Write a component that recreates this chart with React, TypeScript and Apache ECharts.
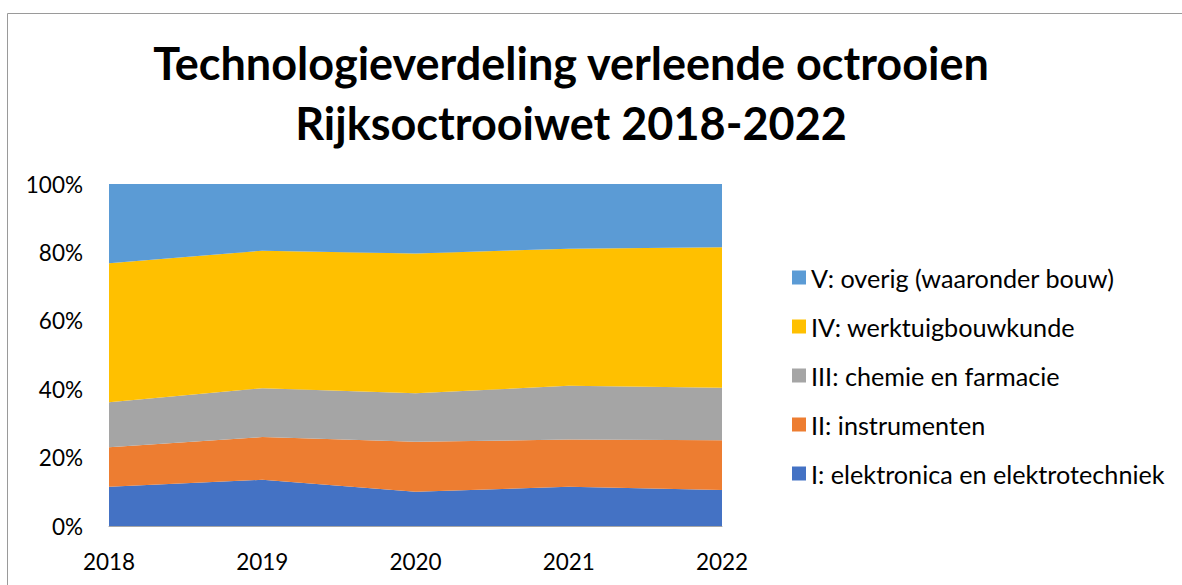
import React, { useEffect, useRef } from "react";
import * as echarts from "echarts";

const years = ["2018", "2019", "2020", "2021", "2022"];
const elektronica = [11.5, 13.5, 10.0, 11.5, 10.5];
const instrumenten = [11.5, 12.5, 14.6, 13.8, 14.6];
const chemie = [13.2, 14.3, 14.2, 15.7, 15.3];
const werktuig = [40.6, 40.2, 40.9, 40.1, 41.1];
const overig = [23.2, 19.5, 20.3, 18.9, 18.5];

const seriesNames = [
  "I: elektronica en elektrotechniek",
  "II: instrumenten",
  "III: chemie en farmacie",
  "IV: werktuigbouwkunde",
  "V: overig (waaronder bouw)",
];
const seriesData = [elektronica, instrumenten, chemie, werktuig, overig];
const colors = ["#4472c4", "#ed7d31", "#a5a5a5", "#ffc000", "#5b9bd5"];

const FONT = "Lato, 'Open Sans', sans-serif";

export default function App() {
  const ref = useRef<HTMLDivElement>(null);
  useEffect(() => {
    if (!ref.current) return;
    const chart = echarts.init(ref.current, null, { renderer: "svg" });
    chart.setOption({
      animation: false,
      backgroundColor: "#ffffff",
      title: {
        text: "Technologieverdeling verleende octrooien\nRijksoctrooiwet 2018-2022",
        left: 566,
        top: 28,
        textAlign: "center",
        textStyle: {
          fontFamily: FONT,
          fontSize: 45,
          fontWeight: "bold",
          lineHeight: 60,
          color: "#000000",
        },
      },
      graphic: [
        {
          type: "rect",
          shape: { x: 7.5, y: 13.5, width: 1200, height: 600 },
          style: { fill: "none", stroke: "#9a9a9a", lineWidth: 1 },
          silent: true,
        },
      ],
      legend: {
        orient: "vertical",
        left: 792,
        top: 265,
        padding: 0,
        itemWidth: 14,
        itemHeight: 14,
        itemGap: 24,
        icon: "rect",
        data: [...seriesNames].reverse(),
        textStyle: {
          fontFamily: FONT,
          fontSize: 25.2,
          lineHeight: 24,
          color: "#000000",
        },
      },
      grid: { left: 109, right: 460, top: 184, bottom: 59, containLabel: false },
      xAxis: {
        type: "category",
        boundaryGap: false,
        data: years,
        axisLine: { show: true, lineStyle: { color: "#a6a6a6", width: 1 } },
        axisTick: { show: false },
        axisLabel: {
          fontFamily: FONT,
          fontSize: 22.5,
          color: "#000000",
          margin: 24,
        },
        splitLine: { show: false },
      },
      yAxis: {
        type: "value",
        min: 0,
        max: 100,
        interval: 20,
        axisLine: { show: false },
        axisTick: { show: false },
        axisLabel: {
          fontFamily: FONT,
          fontSize: 22.5,
          color: "#000000",
          margin: 26,
          formatter: "{value}%",
        },
        splitLine: { show: true, lineStyle: { color: "#d9d9d9", width: 1 } },
      },
      series: seriesNames.map((name, i) => ({
        name,
        type: "line",
        stack: "total",
        data: seriesData[i],
        symbol: "none",
        showSymbol: false,
        lineStyle: { width: 0 },
        itemStyle: { color: colors[i] },
        areaStyle: { color: colors[i], opacity: 1 },
        emphasis: { disabled: true },
      })),
    });
    return () => chart.dispose();
  }, []);
  return (
    <div
      ref={ref}
      style={{ position: "fixed", left: 0, top: 0, width: 1182, height: 585 }}
    />
  );
}
